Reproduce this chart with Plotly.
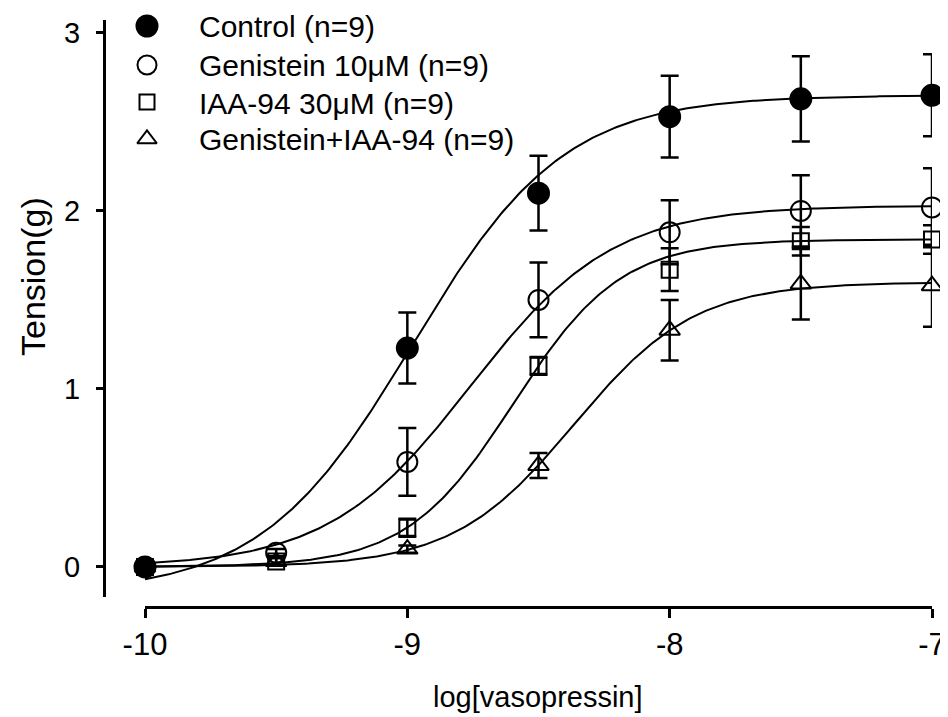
import numpy as np
import plotly.graph_objects as go

# ---------------- data ----------------
log_conc = [-10, -9.5, -9, -8.5, -8, -7.5, -7]

control = [0.0, None, 1.23, 2.10, 2.53, 2.63, 2.65]
control_err = [0.0, None, 0.20, 0.21, 0.23, 0.24, 0.23]

genistein = [0.0, 0.08, 0.59, 1.50, 1.88, 2.00, 2.02]
genistein_err = [0.0, 0.02, 0.19, 0.21, 0.18, 0.20, 0.22]

iaa94 = [0.0, 0.03, 0.22, 1.13, 1.67, 1.83, 1.84]
iaa94_err = [0.0, 0.02, 0.05, 0.05, 0.12, 0.08, 0.08]

gen_iaa = [0.0, 0.03, 0.10, 0.57, 1.33, 1.59, 1.58]
gen_iaa_err = [0.0, 0.02, 0.02, 0.07, 0.17, 0.20, 0.23]

names = ["Control (n=9)", "Genistein 10μM (n=9)", "IAA-94 30μM (n=9)", "Genistein+IAA-94 (n=9)"]

# sigmoid (Hill) fit parameters: bottom, top, logEC50, slope
fit_bottom = [-0.15, 0.0, 0.0, 0.0]
fit_top = [2.65, 2.03, 1.84, 1.60]
fit_logec50 = [-8.98, -8.76, -8.595, -8.365]
fit_slope = [1.5, 1.6, 2.13, 1.89]

x_ticks = [-10, -9, -8, -7]
y_ticks = [0, 1, 2, 3]

# ---------------- layout helpers ----------------
# the page body has an 8 px margin, so the figure is 8 px smaller on each side
OFF = 8
W, H = 948 - OFF, 717 - OFF
FONT = "Arial, Liberation Sans, sans-serif"


def fx(px):
    return (px - OFF) / W


def fy(py):
    return 1 - (py - OFF) / H


series = [control, genistein, iaa94, gen_iaa]
errors = [control_err, genistein_err, iaa94_err, gen_iaa_err]
symbols = ["circle", "circle-open", "square-open", "triangle-up-open"]
sizes = [21, 20, 16, 18]

# legend placement (screen pixels of the reference)
leg_marker_x = 147
leg_text_x = 197
leg_rows_y = [26, 65, 102, 139]
leg_sizes = [21, 19, 15, 17]

fig = go.Figure()

xc = np.linspace(-10, -7, 300)
for i in range(4):
    yc = fit_bottom[i] + (fit_top[i] - fit_bottom[i]) / (1 + 10 ** (fit_slope[i] * (fit_logec50[i] - xc)))
    fig.add_trace(go.Scatter(x=xc, y=yc, mode="lines", line=dict(color="black", width=2),
                             showlegend=False, hoverinfo="skip", cliponaxis=False))

for i in range(4):
    fig.add_trace(go.Scatter(
        x=log_conc, y=series[i], mode="markers", name=names[i], showlegend=False,
        marker=dict(symbol=symbols[i], size=sizes[i], color="black",
                    line=dict(color="black", width=2)),
        error_y=dict(type="data", array=errors[i], visible=True, color="black",
                     thickness=2.5, width=9),
        cliponaxis=False,
    ))

# hand-made legend (markers on a pixel-scaled helper axis, text as annotations)
for i in range(4):
    fig.add_trace(go.Scatter(
        x=[leg_marker_x], y=[leg_rows_y[i]], xaxis="x2", yaxis="y2", mode="markers",
        marker=dict(symbol=symbols[i], size=leg_sizes[i], color="black",
                    line=dict(color="black", width=2)),
        showlegend=False, hoverinfo="skip", cliponaxis=False,
    ))

annotations = []
for i in range(4):
    annotations.append(dict(text=names[i], xref="paper", yref="paper",
                            x=fx(leg_text_x), y=fy(leg_rows_y[i] + 1),
                            xanchor="left", yanchor="middle", showarrow=False,
                            font=dict(size=30, family=FONT, color="black")))
annotations += [
    dict(text="log[vasopressin]", xref="paper", yref="paper",
         x=fx(538), y=fy(697), xanchor="center", yanchor="middle",
         showarrow=False, font=dict(size=29, family=FONT, color="black")),
    dict(text="Tension(g)", xref="paper", yref="paper",
         x=fx(33), y=fy(277), xanchor="center", yanchor="middle", textangle=-90,
         showarrow=False, font=dict(size=34, family=FONT, color="black")),
]

fig.update_layout(
    width=W, height=H,
    margin=dict(l=0, r=0, t=0, b=0, autoexpand=False),
    paper_bgcolor="white", plot_bgcolor="rgba(0,0,0,0)",
    font=dict(family=FONT, color="black"),
    showlegend=False,
    xaxis=dict(domain=[fx(145), fx(932)], range=[-10, -7], anchor="free",
               position=fy(607), showline=True, linecolor="black", linewidth=3,
               ticks="outside", ticklen=9, tickwidth=2.5, tickcolor="black",
               tickvals=x_ticks, ticktext=[str(v) for v in x_ticks],
               tickfont=dict(size=31, family=FONT, color="black"),
               showgrid=False, zeroline=False, automargin=False),
    yaxis=dict(domain=[fy(597), fy(20)], range=[-0.169, 3.073], anchor="free",
               position=fx(104), showline=True, linecolor="black", linewidth=3,
               ticks="outside", ticklen=7, tickwidth=2.5, tickcolor="black",
               tickvals=y_ticks, ticktext=[str(v) for v in y_ticks],
               ticklabelstandoff=10,
               tickfont=dict(size=29, family=FONT, color="black"),
               showgrid=False, zeroline=False, automargin=False),
    xaxis2=dict(domain=[0, 1], range=[OFF, 948], anchor="y2",
                visible=False, fixedrange=True, showgrid=False, zeroline=False),
    yaxis2=dict(domain=[0, 1], range=[717, OFF], anchor="x2",
                visible=False, fixedrange=True, showgrid=False, zeroline=False),
    annotations=annotations,
)

fig.write_html("out.html")
